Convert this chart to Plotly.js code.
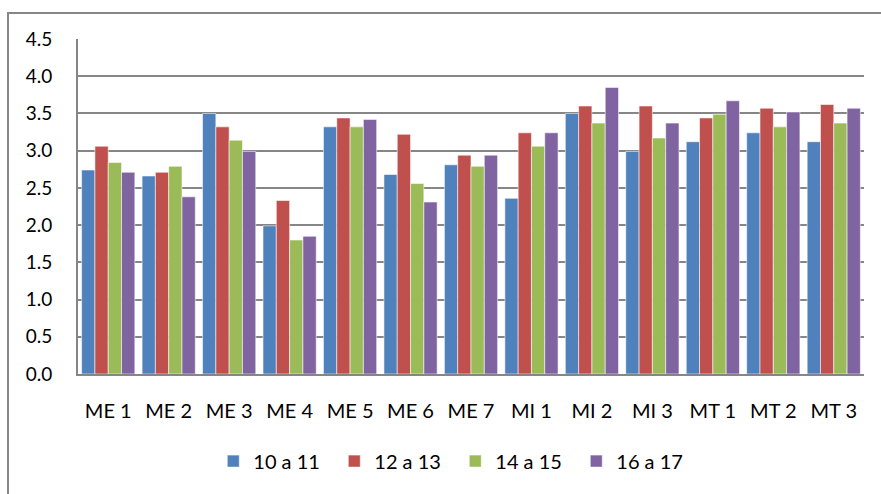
<!DOCTYPE html>
<html>
<head>
<meta charset="utf-8">
<script src="https://cdn.plot.ly/plotly-3.0.1.min.js"></script>
<style>
  html, body { margin: 0; padding: 0; background: #ffffff; }
  #wrap { position: relative; width: 881px; height: 494px; overflow: hidden; }
  #frame { position: absolute; left: 7px; top: 12px; width: 900px; height: 520px;
           border: 2px solid #868686; box-sizing: border-box; pointer-events: none; }
  #chart { position: absolute; left: 0; top: 0; width: 881px; height: 494px; }
</style>
</head>
<body>
<div id="wrap">
  <div id="frame"></div>
  <div id="chart"></div>
</div>
<script>
const categories = ["ME 1", "ME 2", "ME 3", "ME 4", "ME 5", "ME 6", "ME 7", "MI 1", "MI 2", "MI 3", "MT 1", "MT 2", "MT 3"];
const seriesNames = ["10 a 11", "12 a 13", "14 a 15", "16 a 17"];
const age10to11 = [2.74, 2.66, 3.50, 1.99, 3.32, 2.68, 2.81, 2.36, 3.50, 2.99, 3.12, 3.24, 3.12];
const age12to13 = [3.06, 2.71, 3.32, 2.33, 3.44, 3.22, 2.94, 3.24, 3.60, 3.60, 3.44, 3.57, 3.62];
const age14to15 = [2.84, 2.79, 3.14, 1.80, 3.32, 2.56, 2.79, 3.06, 3.37, 3.17, 3.49, 3.32, 3.37];
const age16to17 = [2.71, 2.38, 2.99, 1.85, 3.42, 2.31, 2.94, 3.24, 3.85, 3.37, 3.67, 3.52, 3.57];
const yTicks = [0, 0.5, 1, 1.5, 2, 2.5, 3, 3.5, 4, 4.5];
const yTickLabels = ["0.0", "0.5", "1.0", "1.5", "2.0", "2.5", "3.0", "3.5", "4.0", "4.5"];

const colors = ["#4F81BD", "#C0504D", "#9BBB59", "#8064A2"];
const allSeries = [age10to11, age12to13, age14to15, age16to17];

const traces = allSeries.map((vals, i) => ({
  type: "bar",
  name: seriesNames[i],
  x: categories,
  y: vals,
  marker: { color: colors[i], line: { color: "rgba(255,255,255,0.55)", width: 1 } },
  hoverinfo: "x+y+name"
}));

const fontFam = "Lato, 'Open Sans', sans-serif";

const layout = {
  width: 881,
  height: 494,
  margin: { l: 78, r: 17, t: 39, b: 120 },
  paper_bgcolor: "rgba(0,0,0,0)",
  plot_bgcolor: "#ffffff",
  barmode: "group",
  bargap: 0.12,
  bargroupgap: 0,
  font: { family: fontFam, size: 20, color: "#000000" },
  xaxis: {
    type: "category",
    showgrid: false,
    showline: true,
    linecolor: "#868686",
    linewidth: 2,
    ticks: "",
    ticklabelstandoff: 18,
    tickfont: { family: fontFam, size: 20, color: "#000000" },
    fixedrange: true
  },
  yaxis: {
    range: [0, 4.5],
    tickvals: yTicks,
    ticktext: yTickLabels,
    showgrid: true,
    gridcolor: "#868686",
    gridwidth: 2,
    showline: true,
    linecolor: "#868686",
    linewidth: 2,
    zeroline: false,
    ticks: "",
    ticklabelstandoff: 20,
    tickfont: { family: fontFam, size: 19, color: "#000000" },
    fixedrange: true
  },
  showlegend: true,
  legend: {
    orientation: "h",
    x: 0.48,
    xanchor: "center",
    y: -0.26,
    yanchor: "middle",
    font: { family: fontFam, size: 20, color: "#000000" },
    entrywidth: 76,
    entrywidthmode: "pixels",
    bgcolor: "rgba(0,0,0,0)"
  }
};

Plotly.newPlot("chart", traces, layout, { displayModeBar: false, staticPlot: true });
</script>
</body>
</html>
